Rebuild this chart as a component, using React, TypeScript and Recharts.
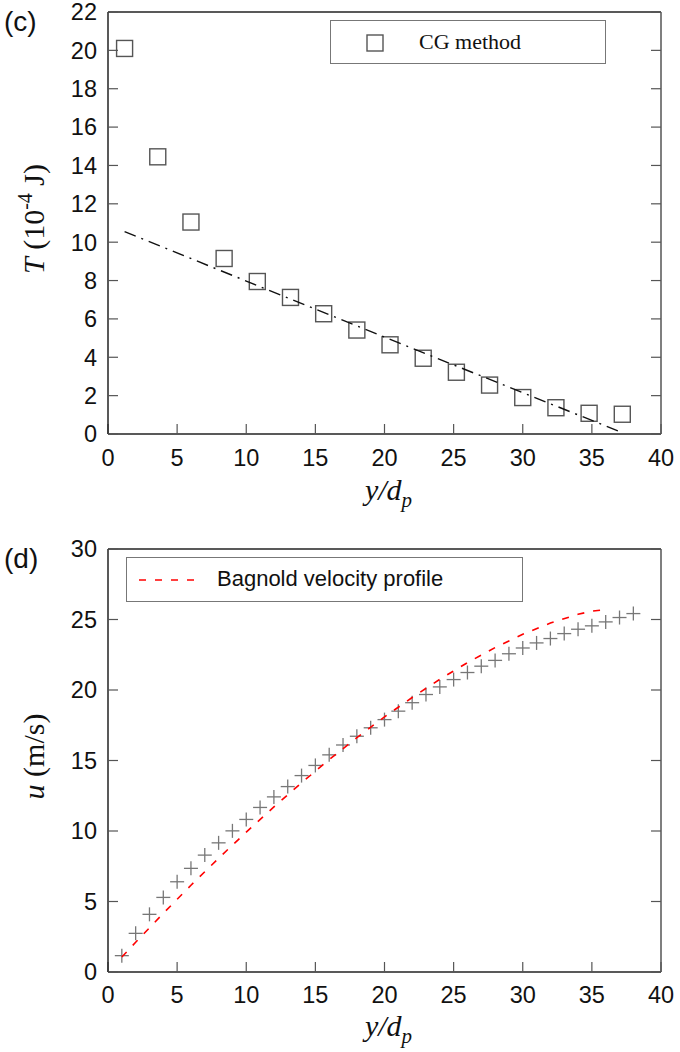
import React from "react";
import { ScatterChart, Scatter, XAxis, YAxis, Legend } from "recharts";

// (c) granular temperature, CG method
const cgX = [1.2, 3.6, 6.0, 8.4, 10.8, 13.2, 15.6, 18.0, 20.4, 22.8, 25.2, 27.6, 30.0, 32.4, 34.8, 37.2];
const cgT = [20.1, 14.45, 11.05, 9.15, 7.95, 7.12, 6.27, 5.42, 4.65, 3.95, 3.22, 2.55, 1.9, 1.37, 1.08, 1.03];
// dash-dot fit line
const fitX = [1.2, 20.0, 37.2];
const fitT = [10.55, 5.05, 0.07];

// (d) velocity profile, simulation
const simX = [1, 2, 3, 4, 5, 6, 7, 8, 9, 10, 11, 12, 13, 14, 15, 16, 17, 18, 19, 20, 21, 22, 23, 24, 25, 26, 27, 28, 29, 30, 31, 32, 33, 34, 35, 36, 37, 38];
const simU = [1.16, 2.74, 4.09, 5.29, 6.4, 7.35, 8.29, 9.16, 10.01, 10.82, 11.67, 12.42, 13.15, 13.93, 14.65, 15.4, 16.1, 16.72, 17.32, 17.9, 18.5, 19.1, 19.68, 20.22, 20.74, 21.24, 21.69, 22.1, 22.57, 22.98, 23.34, 23.65, 24.0, 24.31, 24.55, 24.83, 25.14, 25.42];
// Bagnold velocity profile
const bagX = [1, 2, 4, 6, 8, 10, 12, 14, 16, 18, 20, 22, 24, 26, 28, 30, 32, 34, 35, 36];
const bagU = [1.06, 2.11, 4.16, 6.15, 8.07, 9.92, 11.71, 13.42, 15.06, 16.62, 18.09, 19.47, 20.76, 21.94, 23.01, 23.95, 24.75, 25.37, 25.59, 25.7];

const xTicks = [0, 5, 10, 15, 20, 25, 30, 35, 40];
const xInner = [5, 10, 15, 20, 25, 30, 35];
const tTicks = [0, 2, 4, 6, 8, 10, 12, 14, 16, 18, 20, 22];
const uTicks = [0, 5, 10, 15, 20, 25, 30];

const SANS = "'Liberation Sans', Arial, Helvetica, sans-serif";
const SERIF = "'Liberation Serif', 'Times New Roman', serif";

const toPoints = (xs: number[], ys: number[]) => xs.map((x, i) => ({ x, y: ys[i] }));

const Square = (p: any) => (
  <rect x={p.cx - 8} y={p.cy - 8} width={16} height={16} fill="none" stroke="#555" strokeWidth={1.4} />
);

const Plus = (p: any) => (
  <g stroke="#777" strokeWidth={1.3}>
    <line x1={p.cx - 7} x2={p.cx + 7} y1={p.cy} y2={p.cy} />
    <line x1={p.cx} x2={p.cx} y1={p.cy - 7} y2={p.cy + 7} />
  </g>
);

const NoDot = () => <g />;
const NoTick = () => <g />;

const tickStyle = { fill: "#111", fontSize: 23.5, fontFamily: SANS };

const XTitle = (dy: number) => (props: any) => {
  const { x, y, width } = props.viewBox;
  return (
    <text x={x + width / 2 + 4} y={y + dy} textAnchor="middle" fontFamily={SERIF} fontSize={30} fontStyle="italic" fill="#111">
      y/d
      <tspan fontSize={21} dy={7}>p</tspan>
    </text>
  );
};

const YTitleT = (props: any) => {
  const { y, height } = props.viewBox;
  const cy = y + height / 2 - 4;
  return (
    <g>
      <text x={4} y={31} fontFamily={SANS} fontSize={28} fill="#111">(c)</text>
      <text transform={`translate(44, ${cy}) rotate(-90)`} textAnchor="middle" fontFamily={SERIF} fontSize={30} fill="#111">
        <tspan fontStyle="italic">T</tspan>{"  "}(10
        <tspan fontSize={20} dy={-12}>-4</tspan>
        <tspan dy={12}> J)</tspan>
      </text>
    </g>
  );
};

const YTitleU = (props: any) => {
  const { y, height } = props.viewBox;
  const cy = y + height / 2 - 4;
  return (
    <g>
      <text x={4} y={48} fontFamily={SANS} fontSize={28} fill="#111">(d)</text>
      <text transform={`translate(44, ${cy}) rotate(-90)`} textAnchor="middle" fontFamily={SERIF} fontSize={30} fill="#111">
        <tspan fontStyle="italic">u</tspan> (m/s)
      </text>
    </g>
  );
};

const CgLegend = () => (
  <div style={{ position: "relative", boxSizing: "border-box", width: 276, height: 44, border: "1.5px solid #777", background: "#fff" }}>
    <svg width={18} height={18} style={{ position: "absolute", left: 35, top: 13 }}>
      <rect x={1} y={1} width={16} height={16} fill="none" stroke="#555" strokeWidth={1.4} />
    </svg>
    <span style={{ position: "absolute", left: 88, top: 0, lineHeight: "41px", fontFamily: SERIF, fontSize: 22, color: "#111", whiteSpace: "nowrap" }}>
      CG method
    </span>
  </div>
);

const BagLegend = () => (
  <div style={{ position: "relative", boxSizing: "border-box", width: 397, height: 45, border: "1.5px solid #777", background: "#fff" }}>
    <svg width={60} height={6} style={{ position: "absolute", left: 12, top: 19 }}>
      <line x1={0} x2={58} y1={3} y2={3} stroke="#ff0000" strokeWidth={1.6} strokeDasharray="7 9" />
    </svg>
    <span style={{ position: "absolute", left: 90, top: 0, lineHeight: "42px", fontFamily: SANS, fontSize: 22, color: "#111", whiteSpace: "nowrap" }}>
      Bagnold velocity profile
    </span>
  </div>
);

const axisLine = { stroke: "#222", strokeWidth: 1.5 };
const tickLine = { stroke: "#555", strokeWidth: 1.2 };

export default function App() {
  return (
    <div style={{ position: "absolute", left: 0, top: 0, width: 680, height: 1052, background: "#fff" }}>
      <ScatterChart width={680} height={520} margin={{ top: 0, right: 0, bottom: 0, left: 0 }}>
        <XAxis
          type="number"
          dataKey="x"
          domain={[0, 40]}
          ticks={xTicks}
          interval={0}
          allowDataOverflow
          height={86}
          tickSize={-10}
          tickMargin={25}
          axisLine={axisLine}
          tickLine={tickLine}
          tick={tickStyle}
          label={{ content: XTitle(66) }}
        />
        <XAxis xAxisId="top" orientation="top" type="number" domain={[0, 40]} ticks={xInner} interval={0} allowDataOverflow height={12} tickSize={-10} axisLine={axisLine} tickLine={tickLine} tick={NoTick} />
        <YAxis
          type="number"
          dataKey="y"
          domain={[0, 22]}
          ticks={tTicks}
          interval={0}
          allowDataOverflow
          width={108}
          tickSize={-10}
          tickMargin={21}
          axisLine={axisLine}
          tickLine={tickLine}
          tick={tickStyle}
          label={{ content: YTitleT }}
        />
        <YAxis yAxisId="right" orientation="right" type="number" domain={[0, 22]} ticks={tTicks} interval={0} allowDataOverflow width={19} tickSize={-10} axisLine={{ stroke: "#555", strokeWidth: 1.5 }} tickLine={tickLine} tick={NoTick} />
        <Legend layout="horizontal" verticalAlign="middle" align="center" wrapperStyle={{ top: 20, left: 330, width: 276, height: 44 }} content={CgLegend} />
        <Scatter name="CG method" data={toPoints(cgX, cgT)} shape={Square} isAnimationActive={false} />
        <Scatter
          name="fit"
          data={toPoints(fitX, fitT)}
          shape={NoDot}
          line={{ stroke: "#111", strokeWidth: 1.4, strokeDasharray: "12 6 2 6" }}
          lineType="joint"
          isAnimationActive={false}
        />
      </ScatterChart>
      <ScatterChart width={680} height={532} margin={{ top: 0, right: 0, bottom: 0, left: 0 }}>
        <XAxis
          type="number"
          dataKey="x"
          domain={[0, 40]}
          ticks={xTicks}
          interval={0}
          allowDataOverflow
          height={80}
          tickSize={-10}
          tickMargin={24}
          axisLine={axisLine}
          tickLine={tickLine}
          tick={tickStyle}
          label={{ content: XTitle(64) }}
        />
        <XAxis xAxisId="top" orientation="top" type="number" domain={[0, 40]} ticks={xInner} interval={0} allowDataOverflow height={29} tickSize={-10} axisLine={axisLine} tickLine={tickLine} tick={NoTick} />
        <YAxis
          type="number"
          dataKey="y"
          domain={[0, 30]}
          ticks={uTicks}
          interval={0}
          allowDataOverflow
          width={108}
          tickSize={-10}
          tickMargin={21}
          axisLine={axisLine}
          tickLine={tickLine}
          tick={tickStyle}
          label={{ content: YTitleU }}
        />
        <YAxis yAxisId="right" orientation="right" type="number" domain={[0, 30]} ticks={uTicks} interval={0} allowDataOverflow width={19} tickSize={-10} axisLine={{ stroke: "#555", strokeWidth: 1.5 }} tickLine={tickLine} tick={NoTick} />
        <Legend layout="horizontal" verticalAlign="middle" align="center" wrapperStyle={{ top: 37, left: 126, width: 397, height: 45 }} content={BagLegend} />
        <Scatter name="simulation" data={toPoints(simX, simU)} shape={Plus} isAnimationActive={false} />
        <Scatter
          name="Bagnold velocity profile"
          data={toPoints(bagX, bagU)}
          shape={NoDot}
          line={{ stroke: "#ff0000", strokeWidth: 1.6, strokeDasharray: "7 9" }}
          lineType="joint"
          isAnimationActive={false}
        />
      </ScatterChart>
    </div>
  );
}
